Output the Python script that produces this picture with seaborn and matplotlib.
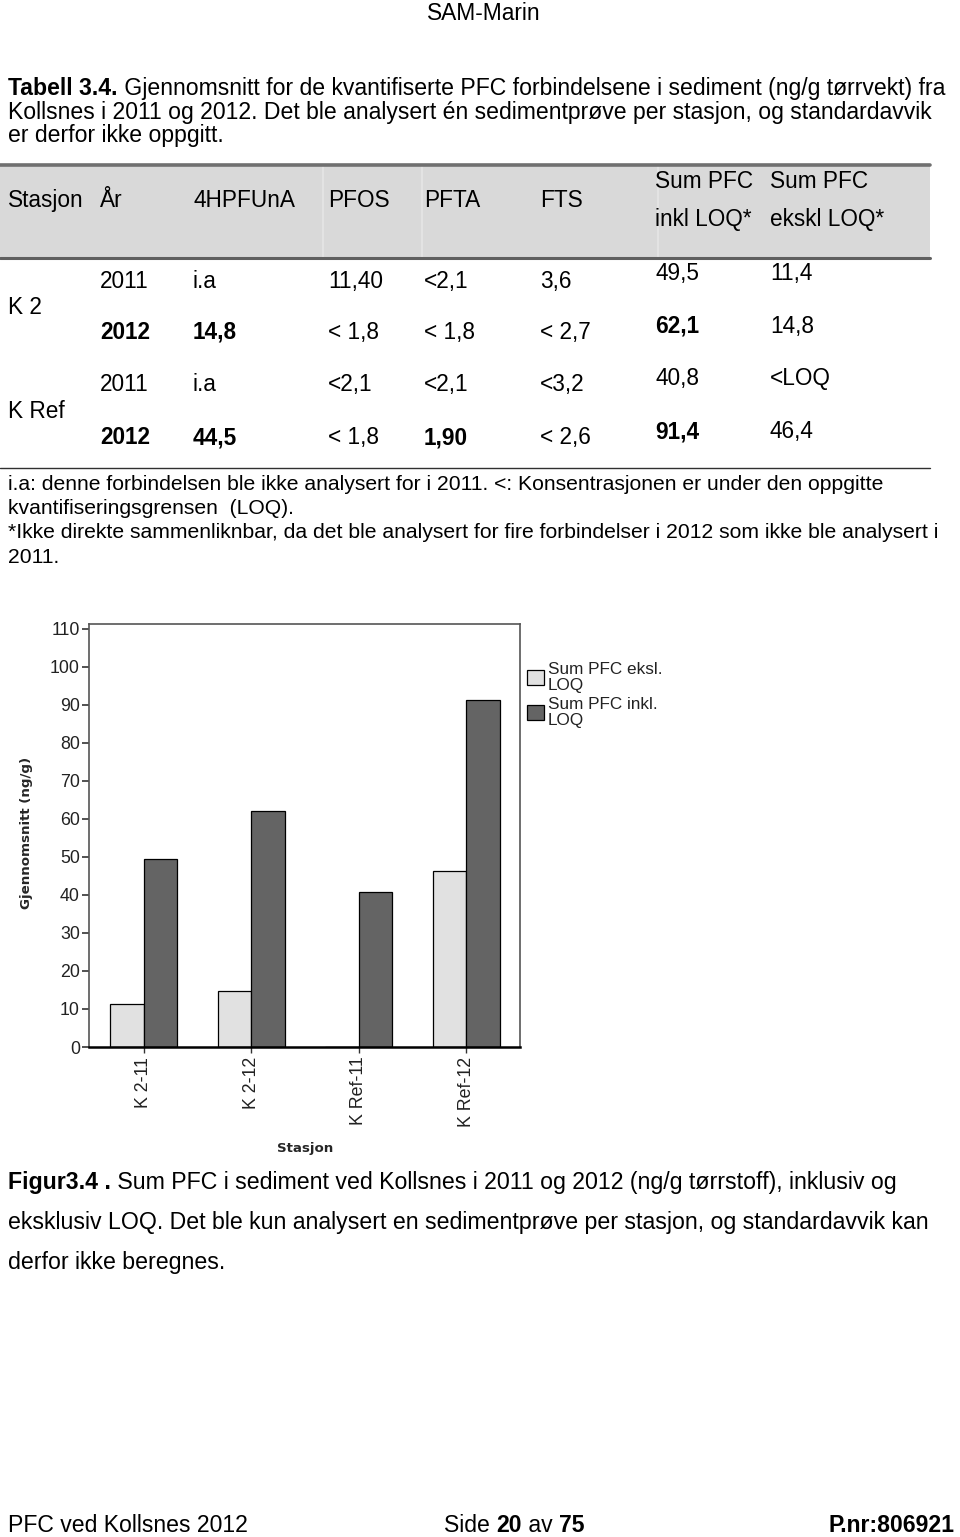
import matplotlib
matplotlib.use("Agg")
import matplotlib.pyplot as plt
import seaborn as sns
import pandas as pd
from matplotlib.patches import Rectangle
from matplotlib.lines import Line2D

# ---------------- data ----------------
# table
tab_stations = ["K 2", "K Ref"]
tab_years = ["2011", "2012", "2011", "2012"]
tab_4hpfuna = ["i.a", "14,8", "i.a", "44,5"]
tab_pfos = ["11,40", "< 1,8", "<2,1", "< 1,8"]
tab_pfta = ["<2,1", "< 1,8", "<2,1", "1,90"]
tab_fts = ["3,6", "< 2,7", "<3,2", "< 2,6"]
tab_sum_inkl = ["49,5", "62,1", "40,8", "91,4"]
tab_sum_ekskl = ["11,4", "14,8", "<LOQ", "46,4"]

# chart
categories = ["K 2-11", "K 2-12", "K Ref-11", "K Ref-12"]
series_names = ["Sum PFC eksl. LOQ", "Sum PFC inkl. LOQ"]
sum_eksl = [11.4, 14.8, 0.0, 46.4]
sum_inkl = [49.5, 62.1, 40.8, 91.4]
yticks = [0, 10, 20, 30, 40, 50, 60, 70, 80, 90, 100, 110]

# ---------------- setup ----------------
sns.set_theme(style="white")
FONT = ["Liberation Sans", "DejaVu Sans"]
plt.rcParams["font.family"] = FONT

W, H = 960, 1537
fig = plt.figure(figsize=(W / 100, H / 100), dpi=100)
fig.patch.set_facecolor("white")
R = fig.canvas.get_renderer()


def fx(x):
    return x / W


def fy(y):
    return 1 - y / H


def put(x, y, s, size, bold=False, ha="left", color="black"):
    return fig.text(fx(x), fy(y), s, fontsize=size, fontweight="bold" if bold else "normal",
                    ha=ha, va="baseline", color=color, family=FONT)


def twidth(s, size, bold):
    t = fig.text(0, 0, s + "|", fontsize=size, fontweight="bold" if bold else "normal", family=FONT)
    w1 = t.get_window_extent(R).width
    t.set_text("|")
    w2 = t.get_window_extent(R).width
    t.remove()
    return w1 - w2


def run(x, y, segs, size, align="left"):
    total = sum(twidth(s, size, b) for s, b in segs)
    if align == "center":
        x = x - total / 2
    elif align == "right":
        x = x - total
    cur = x
    for s, b in segs:
        put(cur, y, s, size, bold=b)
        cur += twidth(s, size, b)


# ---------------- page header ----------------
put(484, 20, "SAM-Marin", 16.4, ha="center")

TS = 16.6
run(8, 95, [("Tabell 3.4.", True), (" Gjennomsnitt for de kvantifiserte PFC forbindelsene i sediment (ng/g tørrvekt) fra", False)], TS)
put(8, 119, "Kollsnes i 2011 og 2012. Det ble analysert én sedimentprøve per stasjon, og standardavvik", TS)
put(8, 142, "er derfor ikke oppgitt.", TS)

# ---------------- table ----------------
fig.patches.append(Rectangle((fx(0), fy(258)), fx(930), (258 - 165) / H, transform=fig.transFigure,
                             facecolor="#d9d9d9", edgecolor="none", zorder=0))
for xs in (323, 422, 658):
    fig.add_artist(Line2D([fx(xs), fx(xs)], [fy(166), fy(257)], color="#e6e6e6", lw=1.2))
fig.add_artist(Line2D([fx(0), fx(930)], [fy(165), fy(165)], color="#707070", lw=2.6))
fig.add_artist(Line2D([fx(0), fx(930)], [fy(258), fy(258)], color="#606060", lw=2.2))
fig.add_artist(Line2D([fx(0), fx(930)], [fy(468), fy(468)], color="#303030", lw=1.0))

TB = 16.3
col_x = [100, 193, 328, 424, 540, 655, 770]
put(8, 207, "Stasjon", TB)
for x, s in zip(col_x[:6], ["År", "4HPFUnA", "PFOS", "PFTA", "FTS"]):
    put(x, 207, s, TB)
put(655, 188, "Sum PFC", TB)
put(655, 226, "inkl LOQ*", TB)
put(770, 188, "Sum PFC", TB)
put(770, 226, "ekskl LOQ*", TB)

row_base = [288, 339, 391, 444]
sum_base = [280, 333, 385, 438]
bold_year = [False, True, False, True]
bold_pfta = [False, False, False, True]
for i in range(4):
    put(col_x[0], row_base[i], tab_years[i], TB, bold=bold_year[i])
    put(col_x[1], row_base[i], tab_4hpfuna[i], TB, bold=bold_year[i])
    put(col_x[2], row_base[i], tab_pfos[i], TB)
    put(col_x[3], row_base[i], tab_pfta[i], TB, bold=bold_pfta[i])
    put(col_x[4], row_base[i], tab_fts[i], TB)
    put(col_x[5], sum_base[i], tab_sum_inkl[i], TB, bold=bold_year[i])
    put(col_x[6], sum_base[i], tab_sum_ekskl[i], TB)
put(8, 314, tab_stations[0], TB)
put(8, 418, tab_stations[1], TB)

# footnotes
FS = 15.2
put(8, 490, "i.a: denne forbindelsen ble ikke analysert for i 2011. <: Konsentrasjonen er under den oppgitte", FS)
put(8, 514, "kvantifiseringsgrensen  (LOQ).", FS)
put(8, 538, "*Ikke direkte sammenliknbar, da det ble analysert for fire forbindelser i 2012 som ikke ble analysert i", FS)
put(8, 563, "2011.", FS)

# ---------------- chart ----------------
ax = fig.add_axes([fx(89), fy(1047), (520 - 89) / W, (1047 - 624) / H])
df = pd.DataFrame({
    "Stasjon": categories * 2,
    "Serie": [series_names[0]] * len(categories) + [series_names[1]] * len(categories),
    "Verdi": sum_eksl + sum_inkl,
})
sns.barplot(data=df, x="Stasjon", y="Verdi", hue="Serie", order=categories, hue_order=series_names,
            palette=["#e1e1e1", "#646464"], saturation=1, width=0.625, edgecolor="black",
            linewidth=0.9, ax=ax, legend=True, errorbar=None)
ax.set_ylim(0, 111.3)
ax.set_xlim(-0.51, 3.5)
ax.set_yticks(yticks)
ax.set_yticklabels([str(v) for v in yticks])
for side in ("top", "right", "left"):
    ax.spines[side].set_color("#555555")
    ax.spines[side].set_linewidth(1.2)
    ax.spines[side].set_visible(True)
ax.spines["bottom"].set_color("black")
ax.spines["bottom"].set_linewidth(1.8)
ax.spines["bottom"].set_zorder(5)
ax.tick_params(axis="y", direction="out", length=5, width=1.2, color="#333333", pad=1.5,
               labelsize=12.8, labelcolor="#222222", left=True)
ax.tick_params(axis="x", direction="out", length=4, width=1.0, color="#333333", pad=3,
               labelsize=12.8, labelcolor="#222222", bottom=True, labelrotation=90)
for lab in ax.get_xticklabels() + ax.get_yticklabels():
    lab.set_family(FONT)
ax.set_ylabel("Gjennomsnitt (ng/g)", family="DejaVu Sans", fontweight="bold", fontsize=9.6)
ax.set_xlabel("Stasjon", family="DejaVu Sans", fontweight="bold", fontsize=9.6)
ax.yaxis.set_label_coords((33 - 89) / 431, (1047 - 833) / 423)
ax.xaxis.set_label_coords((305 - 89) / 431, (1047 - 1142) / 423)

handles, _ = ax.get_legend_handles_labels()
ax.legend(handles, ["Sum PFC eksl.\nLOQ", "Sum PFC inkl.\nLOQ"], loc="upper left",
          bbox_to_anchor=(fx(527), fy(662)), bbox_transform=fig.transFigure, frameon=False,
          borderpad=0, borderaxespad=0, handlelength=1.0, handleheight=1.0,
          handletextpad=0.2, labelspacing=0.2, prop={"family": FONT, "size": 12.3})
for t in ax.get_legend().get_texts():
    t.set_color("#222222")
    t.set_linespacing(1.1)

# ---------------- figure caption ----------------
CS = 16.7
run(8, 1189, [("Figur3.4 .", True), (" Sum PFC i sediment ved Kollsnes i 2011 og 2012 (ng/g tørrstoff), inklusiv og", False)], CS)
put(8, 1229, "eksklusiv LOQ. Det ble kun analysert en sedimentprøve per stasjon, og standardavvik kan", CS)
put(8, 1269, "derfor ikke beregnes.", CS)

# ---------------- footer ----------------
FT = 16.6
put(8, 1532, "PFC ved Kollsnes 2012", FT)
run(514, 1532, [("Side ", False), ("20", True), (" av ", False), ("75", True)], FT, align="center")
run(955, 1532, [("P.nr:806921", True)], FT, align="right")

fig.savefig("out.png", dpi=100, facecolor="white")
